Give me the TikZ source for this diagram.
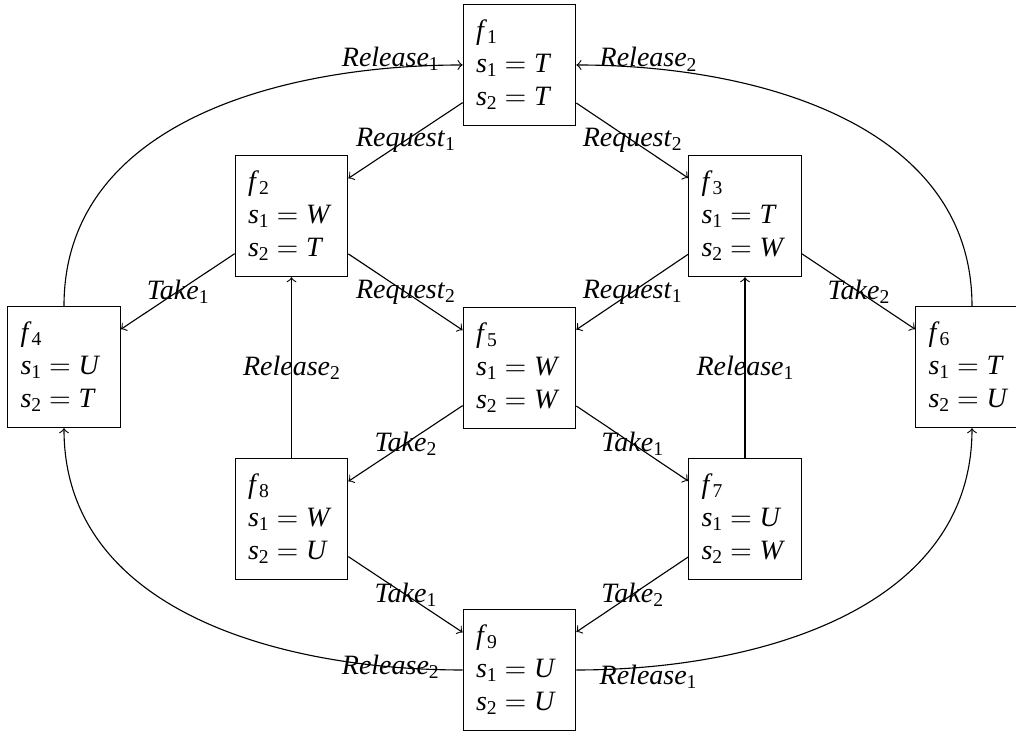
\documentclass[tikz,border=0pt]{standalone}
\usepackage{fontspec}
\setmainfont{Liberation Serif}
\newcommand{\vsub}[2]{\textit{#1}\raisebox{-1.5pt}{\fontsize{7}{7}\selectfont #2}}
\newcommand{\eqq}{${}={}$}
\newcommand{\row}[3]{\vsub{#1}{#2}\eqq\textit{#3}}
\newcommand{\stt}[3]{\vsub{f}{#1}\\\row{s}{1}{#2}\\\row{s}{2}{#3}}
\tikzset{
  statebox/.style={draw, text width=31pt, inner xsep=4.6pt, inner ysep=0pt,
    minimum height=43.3pt, align=left, font=\fontsize{10}{11.8}\selectfont},
  elabel/.style={font=\fontsize{10}{12}\selectfont, inner sep=0pt},
  conn/.style={->}
}
\begin{document}
\begin{tikzpicture}[x=0.357143pt, y=0.357143pt]
\useasboundingbox (0,0) rectangle (1016,733);
\node[statebox] (f1) at (519.5,668) {\stt{1}{T}{T}};
\node[statebox] (f2) at (291.5,517) {\stt{2}{W}{T}};
\node[statebox] (f3) at (745,517) {\stt{3}{T}{W}};
\node[statebox] (f4) at (64,366) {\stt{4}{U}{T}};
\node[statebox] (f5) at (519.5,365) {\stt{5}{W}{W}};
\node[statebox] (f6) at (972,366) {\stt{6}{T}{U}};
\node[statebox] (f7) at (745,214) {\stt{7}{U}{W}};
\node[statebox] (f8) at (291.5,214) {\stt{8}{W}{U}};
\node[statebox] (f9) at (519.5,63) {\stt{9}{U}{U}};

\draw[conn] (f1) -- node[elabel]{\vsub{Request}{1}} (f2);
\draw[conn] (f1) -- node[elabel]{\vsub{Request}{2}} (f3);
\draw[conn] (f2) -- node[elabel]{\vsub{Take}{1}} (f4);
\draw[conn] (f2) -- node[elabel]{\vsub{Request}{2}} (f5);
\draw[conn] (f3) -- node[elabel]{\vsub{Request}{1}} (f5);
\draw[conn] (f3) -- node[elabel]{\vsub{Take}{2}} (f6);
\draw[conn] (f5) -- node[elabel]{\vsub{Take}{2}} (f8);
\draw[conn] (f5) -- node[elabel]{\vsub{Take}{1}} (f7);
\draw[conn] (f8) -- node[elabel]{\vsub{Take}{1}} (f9);
\draw[conn] (f7) -- node[elabel]{\vsub{Take}{2}} (f9);
\draw[conn] (f8) -- node[elabel]{\vsub{Release}{2}} (f2);
\draw[conn] (f7) -- node[elabel]{\vsub{Release}{1}} (f3);

\draw[conn] (f4.north) to[out=90,in=180] node[elabel,pos=0.87,yshift=3.2pt]{\vsub{Release}{1}} (f1.west);
\draw[conn] (f6.north) to[out=90,in=0] node[elabel,pos=0.87,yshift=3.2pt]{\vsub{Release}{2}} (f1.east);
\draw[conn] (f9.west) to[out=180,in=-90] node[elabel,pos=0.13]{\vsub{Release}{2}} (f4.south);
\draw[conn] (f9.east) to[out=0,in=-90] node[elabel,pos=0.13,yshift=-3.5pt]{\vsub{Release}{1}} (f6.south);
\end{tikzpicture}
\end{document}
